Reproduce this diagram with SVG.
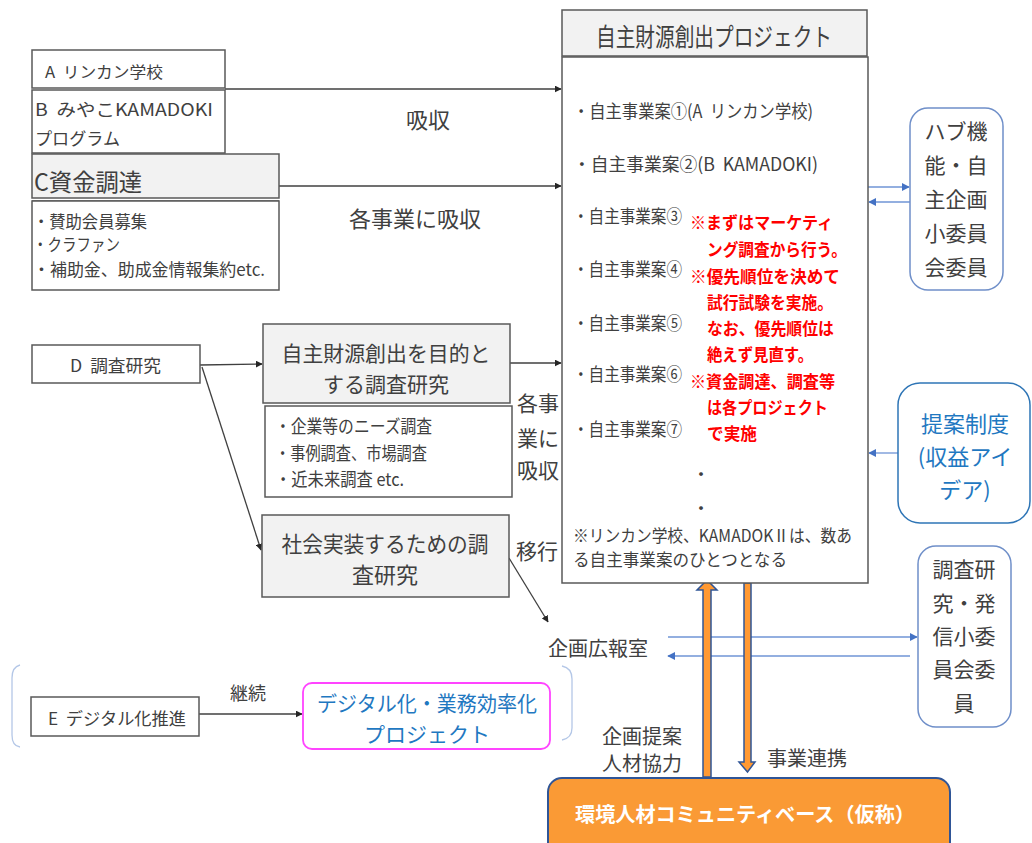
<svg xmlns="http://www.w3.org/2000/svg" width="1032" height="843" viewBox="0 0 1032 843">
<defs>
<style>
text{font-family:"Noto Sans CJK JP","Liberation Sans",sans-serif;fill:#404040;dominant-baseline:central;white-space:pre}
.box{fill:#fff;stroke:#595959;stroke-width:1.5}
.gbox{fill:#f2f2f2;stroke:#595959;stroke-width:1.5}
.ln{stroke:#404040;stroke-width:1.3;fill:none}
.bl{stroke:#6f94d6;stroke-width:1.3;fill:none}
.red{fill:#ff0000;font-weight:bold;font-size:17px}
.it{font-size:18px}
.blue{fill:#1f78c1}
.mid{text-anchor:middle}
</style>
<marker id="ah" viewBox="0 0 10 10" refX="9" refY="5" markerWidth="7" markerHeight="7" markerUnits="userSpaceOnUse" orient="auto"><path d="M0,0 L10,5 L0,10 z" fill="#262626"/></marker>
<marker id="bh" viewBox="0 0 10 10" refX="9" refY="5" markerWidth="8" markerHeight="8" markerUnits="userSpaceOnUse" orient="auto"><path d="M0,0 L10,5 L0,10 z" fill="#4472c4"/></marker>
</defs>

<g id="connectors">
<line class="ln" x1="225" y1="89" x2="561" y2="89" marker-end="url(#ah)"/>
<line class="ln" x1="279" y1="186" x2="561" y2="186" marker-end="url(#ah)"/>
<line class="ln" x1="200" y1="365" x2="262" y2="364" marker-end="url(#ah)"/>
<line class="ln" x1="202" y1="367" x2="261" y2="550" marker-end="url(#ah)"/>
<line class="ln" x1="510" y1="363" x2="561" y2="363" marker-end="url(#ah)"/>
<line class="ln" x1="509" y1="558" x2="548" y2="622" marker-end="url(#ah)"/>
<line class="ln" x1="199" y1="714" x2="302" y2="714" marker-end="url(#ah)"/>
<line class="bl" x1="868" y1="187" x2="909" y2="187" marker-end="url(#bh)"/>
<line class="bl" x1="910" y1="202" x2="869" y2="202" marker-end="url(#bh)"/>
<line class="bl" x1="898" y1="453" x2="869" y2="453" marker-end="url(#bh)" stroke="#9db6e3"/>
<line class="bl" x1="668" y1="637" x2="917" y2="637" marker-end="url(#bh)"/>
<line class="bl" x1="910" y1="656" x2="668" y2="656" marker-end="url(#bh)"/>
<path d="M707,580 L717,590 L711,590 L711,777 L703,777 L703,590 L697,590 Z" fill="#ff9933" stroke="#2f5597" stroke-width="1.5"/>
<path d="M744,583 L751,583 L751,762 L755,762 L747.5,772 L739,762 L744,762 Z" fill="#ff9933" stroke="#2f5597" stroke-width="1.5"/>
<text x="428" y="118" class="mid" font-size="22">吸収</text>
<text x="415" y="217" class="mid" font-size="22">各事業に吸収</text>
<text x="538" y="402" class="mid" font-size="21">各事</text>
<text x="538" y="437" class="mid" font-size="21">業に</text>
<text x="538" y="469" class="mid" font-size="21">吸収</text>
<text x="537" y="550" class="mid" font-size="21">移行</text>
<text x="248" y="692" class="mid" font-size="18">継続</text>
<text x="642" y="735" class="mid" font-size="20">企画提案</text>
<text x="642" y="762" class="mid" font-size="20">人材協力</text>
<text x="807" y="757" class="mid" font-size="20">事業連携</text>
</g>

<g id="nodeA">
<rect class="box" x="32" y="50" width="193" height="38"/>
<text x="45" y="71" font-size="16" textLength="118" lengthAdjust="spacingAndGlyphs">A  リンカン学校</text>
</g>
<g id="nodeB">
<rect class="box" x="32" y="90" width="193" height="63"/>
<text x="35" y="108" font-size="17" textLength="178" lengthAdjust="spacingAndGlyphs">B  みやこKAMADOKI</text>
<text x="35" y="137" font-size="17" textLength="85" lengthAdjust="spacingAndGlyphs">プログラム</text>
</g>
<g id="nodeC">
<rect class="gbox" x="32" y="154" width="247" height="44"/>
<line x1="32" y1="201" x2="279" y2="201" stroke="#595959" stroke-width="1.3"/>
<rect class="box" x="32" y="201" width="247" height="89"/>
<text x="34" y="180" font-size="24" textLength="108" lengthAdjust="spacingAndGlyphs">C資金調達</text>
<text x="33" y="220" font-size="17" textLength="114" lengthAdjust="spacingAndGlyphs">・賛助会員募集</text>
<text x="33" y="243" font-size="17" textLength="87" lengthAdjust="spacingAndGlyphs">・クラファン</text>
<text x="33" y="268" font-size="17" textLength="232" lengthAdjust="spacingAndGlyphs">・補助金、助成金情報集約etc.</text>
</g>
<g id="nodeD">
<rect class="box" x="32" y="345" width="168" height="38"/>
<text x="70" y="364" font-size="17" textLength="91" lengthAdjust="spacingAndGlyphs">D  調査研究</text>
</g>
<g id="nodeD1">
<rect class="gbox" x="263" y="324" width="247" height="79"/>
<text x="386" y="352" class="mid" font-size="21" textLength="209" lengthAdjust="spacingAndGlyphs">自主財源創出を目的と</text>
<text x="386" y="383" class="mid" font-size="21">する調査研究</text>
<rect class="box" x="265" y="406" width="247" height="91"/>
<text x="275" y="425" font-size="18" textLength="157" lengthAdjust="spacingAndGlyphs">・企業等のニーズ調査</text>
<text x="275" y="452" font-size="18" textLength="152" lengthAdjust="spacingAndGlyphs">・事例調査、市場調査</text>
<text x="275" y="478" font-size="18" textLength="129" lengthAdjust="spacingAndGlyphs">・近未来調査 etc.</text>
</g>
<g id="nodeD2">
<rect class="gbox" x="262" y="515" width="247" height="82"/>
<text x="385" y="542" class="mid" font-size="22" textLength="207" lengthAdjust="spacingAndGlyphs">社会実装するための調</text>
<text x="385" y="573" class="mid" font-size="22">査研究</text>
</g>
<g id="nodeE">
<path d="M20,665 Q12,667 12,678 L12,735 Q12,746 20,747" fill="none" stroke="#b4c7e7" stroke-width="1.3"/>
<path d="M562,666 Q572,668 572,679 L572,728 Q572,738 562,740" fill="none" stroke="#b4c7e7" stroke-width="1.3"/>
<rect class="box" x="31" y="697" width="168" height="39"/>
<text x="48" y="717" font-size="17" textLength="138" lengthAdjust="spacingAndGlyphs">E  デジタル化推進</text>
</g>
<g id="nodeDX">
<rect x="303" y="683" width="247" height="66" rx="9" fill="#fff" stroke="#ff44ff" stroke-width="1.8"/>
<text x="427" y="702" class="mid blue" font-size="21" textLength="220" lengthAdjust="spacingAndGlyphs">デジタル化・業務効率化</text>
<text x="427" y="733" class="mid blue" font-size="21">プロジェクト</text>
</g>
<g id="nodeMain">
<rect class="gbox" x="562" y="10" width="305" height="46"/>
<text x="714" y="35" class="mid" font-size="25" textLength="236" lengthAdjust="spacingAndGlyphs">自主財源創出プロジェクト</text>
<rect class="box" x="562" y="57" width="306" height="526"/>
<text x="573" y="110" class="it" textLength="240" lengthAdjust="spacingAndGlyphs">・自主事業案①(A  リンカン学校)</text>
<text x="573" y="163" class="it" textLength="245" lengthAdjust="spacingAndGlyphs">・自主事業案②(B  KAMADOKI)</text>
<text x="573" y="215" class="it" textLength="109" lengthAdjust="spacingAndGlyphs">・自主事業案③</text>
<text x="573" y="268" class="it" textLength="109" lengthAdjust="spacingAndGlyphs">・自主事業案④</text>
<text x="573" y="322" class="it" textLength="109" lengthAdjust="spacingAndGlyphs">・自主事業案⑤</text>
<text x="573" y="373" class="it" textLength="109" lengthAdjust="spacingAndGlyphs">・自主事業案⑥</text>
<text x="573" y="428" class="it" textLength="109" lengthAdjust="spacingAndGlyphs">・自主事業案⑦</text>
<text x="701" y="473" class="mid it">・</text>
<text x="701" y="507" class="mid it">・</text>
<text x="573" y="534" font-size="17" textLength="279" lengthAdjust="spacingAndGlyphs">※リンカン学校、KAMADOKⅡは、数あ</text>
<text x="573" y="558" font-size="17" textLength="214" lengthAdjust="spacingAndGlyphs">る自主事業案のひとつとなる</text>
<text x="690" y="221" class="red" textLength="143" lengthAdjust="spacingAndGlyphs">※まずはマーケティ</text>
<text x="707" y="248" class="red" textLength="140" lengthAdjust="spacingAndGlyphs">ング調査から行う。</text>
<text x="690" y="275" class="red" textLength="150" lengthAdjust="spacingAndGlyphs">※優先順位を決めて</text>
<text x="707" y="301" class="red" textLength="126" lengthAdjust="spacingAndGlyphs">試行試験を実施。</text>
<text x="707" y="327" class="red" textLength="127" lengthAdjust="spacingAndGlyphs">なお、優先順位は</text>
<text x="707" y="353" class="red" textLength="106" lengthAdjust="spacingAndGlyphs">絶えず見直す。</text>
<text x="690" y="380" class="red" textLength="145" lengthAdjust="spacingAndGlyphs">※資金調達、調査等</text>
<text x="707" y="406" class="red" textLength="121" lengthAdjust="spacingAndGlyphs">は各プロジェクト</text>
<text x="707" y="432" class="red" textLength="50" lengthAdjust="spacingAndGlyphs">で実施</text>
</g>
<g id="nodeHub">
<rect x="910" y="108" width="93" height="182" rx="18" fill="#fff" stroke="#6f8fc9" stroke-width="1.5"/>
<text x="956" y="130" class="mid" font-size="21">ハブ機</text>
<text x="956" y="164" class="mid" font-size="21">能・自</text>
<text x="956" y="198" class="mid" font-size="21">主企画</text>
<text x="956" y="232" class="mid" font-size="21">小委員</text>
<text x="956" y="266" class="mid" font-size="21">会委員</text>
</g>
<g id="nodeProposal">
<rect x="898" y="383" width="132" height="140" rx="22" fill="#fff" stroke="#2e75b6" stroke-width="1.5"/>
<text x="965" y="422" class="mid blue" font-size="22">提案制度</text>
<text x="965" y="455" class="mid blue" font-size="22">(収益アイ</text>
<text x="965" y="488" class="mid blue" font-size="22">デア)</text>
</g>
<g id="nodePR">
<text x="598" y="647" class="mid" font-size="20">企画広報室</text>
</g>
<g id="nodeSurvey">
<rect x="918" y="546" width="93" height="181" rx="18" fill="#fff" stroke="#6f8fc9" stroke-width="1.5"/>
<text x="964" y="568" class="mid" font-size="21">調査研</text>
<text x="964" y="602" class="mid" font-size="21">究・発</text>
<text x="964" y="635" class="mid" font-size="21">信小委</text>
<text x="964" y="668" class="mid" font-size="21">員会委</text>
<text x="964" y="702" class="mid" font-size="21">員</text>
</g>
<g id="nodeBase">
<rect x="548" y="778" width="402" height="90" rx="14" fill="#fa9a35" stroke="#2f5597" stroke-width="2"/>
<text x="745" y="813" class="mid" font-size="20" font-weight="bold" style="fill:#fff" textLength="340" lengthAdjust="spacingAndGlyphs">環境人材コミュニティベース（仮称）</text>
</g>
</svg>
